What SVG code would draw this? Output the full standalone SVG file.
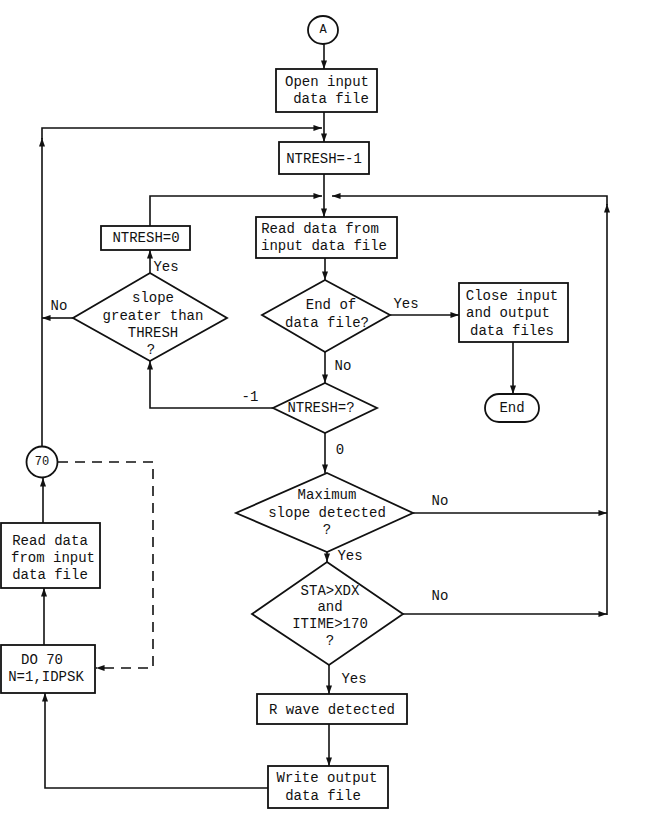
<svg xmlns="http://www.w3.org/2000/svg" width="656" height="833" viewBox="0 0 656 833">
<style>
.s{fill:#fff;stroke:#111;stroke-width:1.8}
.c{fill:none;stroke:#111;stroke-width:1.6}
.d{fill:none;stroke:#111;stroke-width:1.6;stroke-dasharray:10 7}
text{font-family:"Liberation Mono","Courier New",monospace;font-size:14px;fill:#111;text-anchor:middle;dominant-baseline:central}
.l{text-anchor:start}
</style>
<defs>
<marker id="ah" viewBox="0 0 10 7" refX="10" refY="3.5" markerWidth="9" markerHeight="6" markerUnits="userSpaceOnUse" orient="auto">
<path d="M0,0 L10,3.5 L0,7 z" fill="#111"/>
</marker>
</defs>
<rect width="656" height="833" fill="#fff"/>
<g id="connectors">
<path class="c" d="M324,44 V69" marker-end="url(#ah)"/>
<path class="c" d="M324,112 V142" marker-end="url(#ah)"/>
<path class="c" d="M42,447 V138" marker-end="url(#ah)"/>
<path class="c" d="M42,139 V128 H322" marker-end="url(#ah)"/>
<path class="c" d="M324,174 V217" marker-end="url(#ah)"/>
<path class="c" d="M150,226 V196 H322" marker-end="url(#ah)"/>
<path class="c" d="M607,615 V204" marker-end="url(#ah)"/>
<path class="c" d="M607,205 V196 H332" marker-end="url(#ah)"/>
<path class="c" d="M413,513 H607" marker-end="url(#ah)"/>
<path class="c" d="M403,614 H607" marker-end="url(#ah)"/>
<path class="c" d="M325,258 V280" marker-end="url(#ah)"/>
<path class="c" d="M390,315 H459" marker-end="url(#ah)"/>
<path class="c" d="M513,342 V394" marker-end="url(#ah)"/>
<path class="c" d="M325,352 V383" marker-end="url(#ah)"/>
<path class="c" d="M273,408 H150 V361" marker-end="url(#ah)"/>
<path class="c" d="M150,273 V250" marker-end="url(#ah)"/>
<path class="c" d="M73,318 H42" marker-end="url(#ah)"/>
<path class="c" d="M325,433 V473" marker-end="url(#ah)"/>
<path class="c" d="M327,552 V562" marker-end="url(#ah)"/>
<path class="c" d="M329,665 V694" marker-end="url(#ah)"/>
<path class="c" d="M329,724 V766" marker-end="url(#ah)"/>
<path class="c" d="M268,788 H45 V693" marker-end="url(#ah)"/>
<path class="c" d="M44,645 V588" marker-end="url(#ah)"/>
<path class="c" d="M43,523 V478" marker-end="url(#ah)"/>
<path class="d" d="M58,462 H153 V668 H96" marker-end="url(#ah)"/>
<text x="166" y="267">Yes</text>
<text x="59" y="306">No</text>
<text x="406" y="304">Yes</text>
<text x="343" y="366">No</text>
<text x="250" y="397">-1</text>
<text x="340" y="450">0</text>
<text x="440" y="501">No</text>
<text x="350" y="556">Yes</text>
<text x="440" y="596">No</text>
<text x="354" y="679">Yes</text>
</g>
<g id="nA"><ellipse class="s" cx="323" cy="30" rx="15" ry="14"/><text x="323" y="30" style="font-size:12px">A</text></g>
<g id="nOpen"><rect class="s" x="276" y="69" width="101" height="43"/><text x="327" y="82">Open input</text><text x="331" y="99">data file</text></g>
<g id="nNT1"><rect class="s" x="279" y="142" width="90" height="32"/><text x="324" y="159">NTRESH=-1</text></g>
<g id="nRead"><rect class="s" x="256" y="217" width="141" height="41"/><text x="320" y="229">Read data from</text><text x="324" y="246">input data file</text></g>
<g id="nNT0"><rect class="s" x="101" y="226" width="89" height="24"/><text x="146" y="238">NTRESH=0</text></g>
<g id="nSlope"><polygon class="s" points="150,273 227,318 150,361 73,318"/><text x="153" y="298">slope</text><text x="153" y="316">greater than</text><text x="153" y="333">THRESH</text><text x="151" y="350">?</text></g>
<g id="nEnd"><polygon class="s" points="325,280 390,315 325,352 262,315"/><text x="331" y="305">End of</text><text x="327" y="323">data file?</text></g>
<g id="nClose"><rect class="s" x="459" y="283" width="109" height="59"/><text x="512" y="296">Close input</text><text x="508" y="313">and output</text><text x="512" y="331">data files</text></g>
<g id="nTerm"><rect class="s" x="485" y="394" width="54" height="28" rx="14"/><text x="512" y="408">End</text></g>
<g id="nNTQ"><polygon class="s" points="325,383 377,408 325,433 273,408"/><text x="321" y="408">NTRESH=?</text></g>
<g id="nMax"><polygon class="s" points="327,473 413,513 327,552 236,513"/><text x="327" y="495">Maximum</text><text x="327" y="513">slope detected</text><text x="327" y="530">?</text></g>
<g id="nSTA"><polygon class="s" points="327,562 403,614 329,665 252,614"/><text x="330" y="591">STA&gt;XDX</text><text x="330" y="607">and</text><text x="330" y="624">ITIME&gt;170</text><text x="330" y="641">?</text></g>
<g id="nR"><rect class="s" x="257" y="694" width="150" height="30"/><text x="332" y="710">R wave detected</text></g>
<g id="nWrite"><rect class="s" x="268" y="766" width="120" height="42"/><text x="327" y="778">Write output</text><text x="323" y="796">data file</text></g>
<g id="n70"><circle class="s" cx="42" cy="462" r="15.5"/><text x="42" y="462" style="font-size:12px">70</text></g>
<g id="nRead2"><rect class="s" x="1" y="523" width="99" height="65"/><text x="50" y="541">Read data</text><text x="53" y="558">from input</text><text x="50" y="575">data file</text></g>
<g id="nDO"><rect class="s" x="1" y="645" width="94" height="48"/><text x="42" y="660">DO 70</text><text x="46" y="677">N=1,IDPSK</text></g>
</svg>
